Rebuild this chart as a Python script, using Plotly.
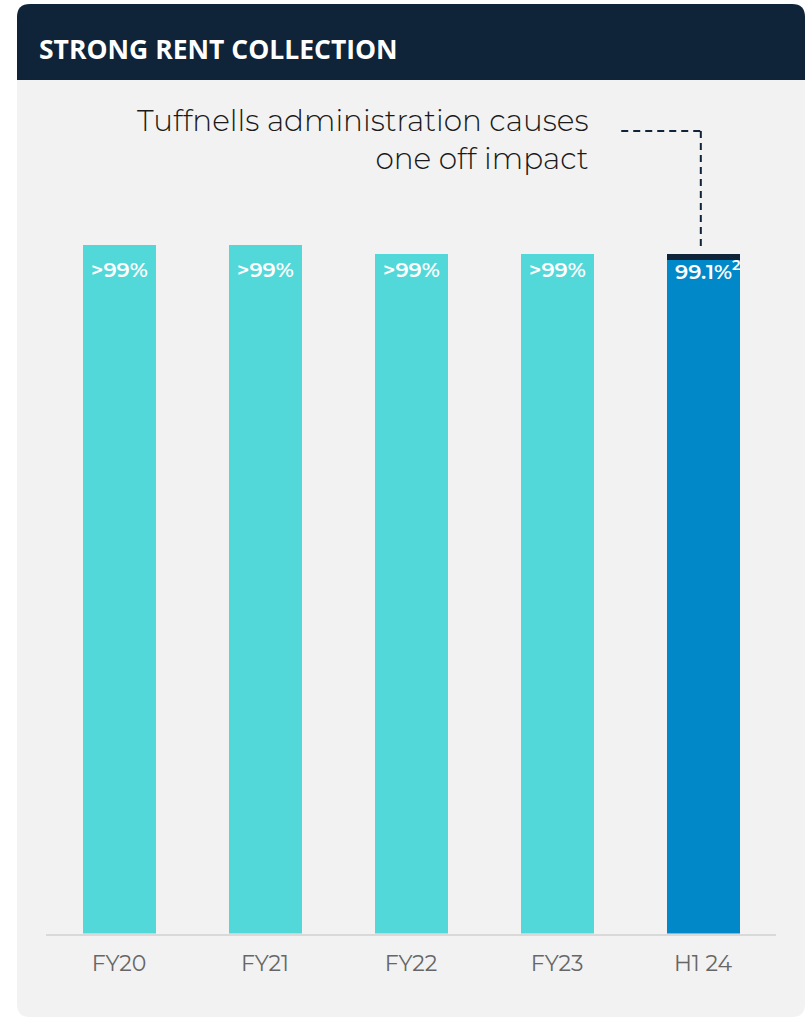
import plotly.graph_objects as go

# Rent collection by period (% of rent due)
categories = ["FY20", "FY21", "FY22", "FY23", "H1 24"]
collected = [101.2, 101.2, 100.0, 100.0, 99.1]
one_off_impact = [0, 0, 0, 0, 0.9]
bar_labels = [">99%", ">99%", ">99%", ">99%", "99.1%<sup>2</sup>"]
label_level = 97.6

TEAL = "#52d8d8"
BLUE = "#0088c8"
NAVY = "#0f2339"
PANEL = "#f2f2f2"

W, H = 809, 1018


def px(x):
    return x / W


def py(y):
    return 1 - y / H


def rounded_path(x0, y0, x1, y1, r, top=True, bottom=True):
    """Rectangle path in paper units from pixel corners, optional rounded ends."""
    pts = []
    if top:
        pts.append(f"M{px(x0)},{py(y0 + r)}")
        pts.append(f"Q{px(x0)},{py(y0)} {px(x0 + r)},{py(y0)}")
        pts.append(f"L{px(x1 - r)},{py(y0)}")
        pts.append(f"Q{px(x1)},{py(y0)} {px(x1)},{py(y0 + r)}")
    else:
        pts.append(f"M{px(x0)},{py(y0)}")
        pts.append(f"L{px(x1)},{py(y0)}")
    if bottom:
        pts.append(f"L{px(x1)},{py(y1 - r)}")
        pts.append(f"Q{px(x1)},{py(y1)} {px(x1 - r)},{py(y1)}")
        pts.append(f"L{px(x0 + r)},{py(y1)}")
        pts.append(f"Q{px(x0)},{py(y1)} {px(x0)},{py(y1 - r)}")
    else:
        pts.append(f"L{px(x1)},{py(y1)}")
        pts.append(f"L{px(x0)},{py(y1)}")
    pts.append("Z")
    return " ".join(pts)


bar_colors = [TEAL] * 4 + [BLUE]

fig = go.Figure()
fig.add_trace(go.Bar(
    x=categories, y=collected, marker=dict(color=bar_colors, line=dict(width=0)),
    width=0.5, hoverinfo="skip", showlegend=False,
))
fig.add_trace(go.Bar(
    x=categories, y=one_off_impact, marker=dict(color=NAVY, line=dict(width=0)),
    width=0.5, hoverinfo="skip", showlegend=False,
))

annotations = []
for i, (cat, lab) in enumerate(zip(categories, bar_labels)):
    annotations.append(dict(
        x=cat, y=label_level, xref="x", yref="y", text=lab, showarrow=False,
        xanchor="center", yanchor="middle", xshift=5 if "sup" in lab else 0,
        font=dict(family="Montserrat, Inter, sans-serif", size=21, color="white", weight=600),
    ))

# Header title
annotations.append(dict(
    x=px(37), y=py(49), xref="paper", yref="paper", text="STRONG RENT COLLECTION",
    showarrow=False, xanchor="left", yanchor="middle",
    font=dict(family="Open Sans", size=26.5, color="white", weight=700),
))

# Call-out text
annotations.append(dict(
    x=px(591), y=py(139), xref="paper", yref="paper",
    text="Tuffnells administration causes<br>one off impact",
    showarrow=False, xanchor="right", yanchor="middle", align="right",
    font=dict(family="Montserrat, Inter, sans-serif", size=29.5, color="#1a1a1a", weight=300),
))

shapes = [
    dict(type="path", xref="paper", yref="paper", layer="below",
         path=rounded_path(17, 80, 805, 1017, 13, top=False, bottom=True),
         fillcolor=PANEL, line=dict(width=0)),
    dict(type="path", xref="paper", yref="paper", layer="below",
         path=rounded_path(17, 4, 805, 80, 13, top=True, bottom=False),
         fillcolor=NAVY, line=dict(width=0)),
    # dashed leader from the call-out to the H1 24 bar
    dict(type="line", xref="x", yref="y", x0=3.44, x1=3.985, y0=118.0, y1=118.0,
         line=dict(color=NAVY, width=2, dash="7px,5px")),
    dict(type="line", xref="x", yref="y", x0=3.985, x1=3.985, y0=118.0, y1=101.0,
         line=dict(color=NAVY, width=2, dash="7px,5px")),
]

y_top = 125
px_per_unit = 6.8
baseline_px = 933.5

fig.update_layout(
    width=W, height=H, autosize=False,
    margin=dict(l=0, r=0, t=0, b=0),
    paper_bgcolor="white", plot_bgcolor="rgba(0,0,0,0)",
    barmode="stack",
    shapes=shapes, annotations=annotations,
    xaxis=dict(
        domain=[px(46), px(776)], range=[-0.5, 4.5], type="category",
        showline=True, linecolor="#d9d9d9", linewidth=2, showgrid=False,
        ticks="", zeroline=False, ticklabelstandoff=9,
        tickfont=dict(family="Montserrat, Inter, sans-serif", size=22, color="#666666"),
        fixedrange=True,
    ),
    yaxis=dict(
        domain=[(H - baseline_px) / H, (H - baseline_px + y_top * px_per_unit) / H],
        range=[0, y_top], visible=False, fixedrange=True,
    ),
)

fig.write_html("out.html")
